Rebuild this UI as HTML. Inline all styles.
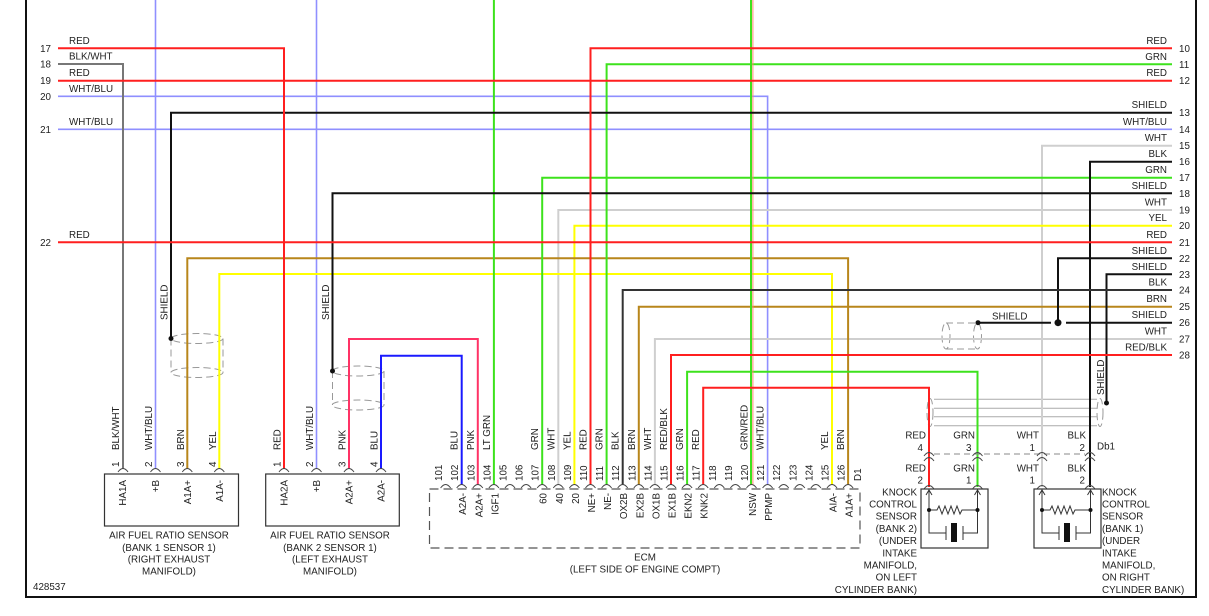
<!DOCTYPE html>
<html>
<head>
<meta charset="utf-8">
<style>
html,body{margin:0;padding:0;background:#fff;}
svg{display:block;}
text{font-family:"Liberation Sans",Arial,sans-serif;font-size:9.8px;fill:#222;}
</style>
</head>
<body>
<svg width="1209" height="616" viewBox="0 0 1209 616" xmlns="http://www.w3.org/2000/svg">
<rect width="1209" height="616" fill="#fff"/>

<!-- shield tubes (behind wires) -->
<g fill="none" stroke="#999" stroke-width="1" stroke-dasharray="7 4">
  <ellipse cx="197" cy="338.5" rx="26" ry="5"/>
  <ellipse cx="197" cy="372.5" rx="26" ry="5"/>
  <path d="M171,338.5 V372.5 M223,338.5 V372.5"/>
  <ellipse cx="358" cy="371" rx="26" ry="5"/>
  <ellipse cx="358" cy="405" rx="26" ry="5"/>
  <path d="M332.5,371 V405 M384,371 V405"/>
  <ellipse cx="946" cy="336" rx="4" ry="13"/>
  <ellipse cx="977.5" cy="336" rx="4" ry="13"/>
  <path d="M946,323 H977 M946,349 H977"/>
  <ellipse cx="930" cy="412.5" rx="3" ry="14"/>
  <ellipse cx="1100" cy="412.5" rx="3" ry="14"/>
</g>
<g stroke="#aaa" stroke-width="1">
  <path d="M934,399.3 H1097 M934,408.3 H1097 M934,416.7 H1097 M934,425.7 H1097"/>
</g>

<!-- wires -->
<g fill="none" stroke-width="2" stroke-linejoin="miter">
  <!-- WHT/BLU -->
  <g stroke="#8f8fff" stroke-width="1.6">
    <path d="M155.5,0 V469"/>
    <path d="M316.5,0 V469"/>
    <path d="M58,96.3 H767.6 V485"/>
    <path d="M58,129.3 H1172"/>
  </g>
  <!-- light gray WHT -->
  <g stroke="#cfcfcf">
    <path d="M1172,145.7 H1042 V487"/>
    <path d="M1172,210 H558.3 V485"/>
    <path d="M1172,339 H654.9 V485"/>
  </g>
  <!-- BLK/WHT -->
  <path d="M58,64 H123 V469" stroke="#777"/>
  <!-- yellow -->
  <g stroke="#ffff00">
    <path d="M1172,225.7 H574.4 V485"/>
    <path d="M219.3,469 V274 H832 V485"/>
  </g>
  <!-- brown -->
  <g stroke="#b8861b">
    <path d="M1172,306.7 H638.8 V485"/>
    <path d="M187.3,469 V258.3 H848.1 V485"/>
  </g>
  <!-- green -->
  <g stroke="#3de21c">
    <path d="M1172,64.3 H606.6 V485"/>
    <path d="M1172,177.7 H542.2 V485"/>
    <path d="M493.9,0 V485"/>
    <path d="M687.1,485 V371.7 H977.5 V487"/>
    <path d="M751,0 V485"/>
  </g>
  <path d="M752.9,0 V485" stroke="#ff8a70" stroke-width="1"/>
  <!-- black -->
  <g stroke="#111">
    <path d="M1172,112.7 H171 V338.5"/>
    <path d="M1172,193.3 H332.5 V371"/>
    <path d="M1172,161.7 H1090 V487"/>
    <path d="M1172,258.3 H1058 V322.7"/>
    <path d="M1172,274.3 H1106.5 V403"/>
    <path d="M1172,322.7 H1066 M1051,322.7 H978"/>
  </g>
  <path d="M1172,290 H622.7 V485" stroke="#333"/>
  <!-- red -->
  <g stroke="#ff1f1f">
    <path d="M58,48.3 H284 V469"/>
    <path d="M58,80.7 H1172"/>
    <path d="M58,242.3 H1172"/>
    <path d="M1172,48.3 H590.5 V485"/>
    <path d="M1172,355 H671 V485"/>
    <path d="M703.2,485 V387.7 H929 V487"/>
  </g>
  <!-- pink / blue -->
  <path d="M349,469 V339 H477.8 V485" stroke="#ff3366"/>
  <path d="M381,469 V355.7 H461.7 V485" stroke="#1a1aff"/>
</g>

<!-- dots -->
<g fill="#111">
  <circle cx="171" cy="338.5" r="2.5"/>
  <circle cx="332.5" cy="371" r="2.5"/>
  <circle cx="978" cy="322.7" r="2.5"/>
  <circle cx="1058" cy="322.7" r="3.5"/>
  <circle cx="1106.5" cy="403" r="2.5"/>
</g>

<!-- frame -->
<path d="M26,0 V597 H1196 V0" fill="none" stroke="#111" stroke-width="2"/>

<!-- left side labels -->
<g text-anchor="end">
  <text x="51" y="51.8">17</text>
  <text x="51" y="67.5">18</text>
  <text x="51" y="84.2">19</text>
  <text x="51" y="99.8">20</text>
  <text x="51" y="132.8">21</text>
  <text x="51" y="245.8">22</text>
</g>
<g>
  <text x="69" y="43.8">RED</text>
  <text x="69" y="59.5">BLK/WHT</text>
  <text x="69" y="76.2">RED</text>
  <text x="69" y="91.8">WHT/BLU</text>
  <text x="69" y="124.8">WHT/BLU</text>
  <text x="69" y="237.8">RED</text>
</g>

<!-- right side labels -->
<g text-anchor="end">
  <text x="1167" y="43.8">RED</text>
  <text x="1167" y="59.8">GRN</text>
  <text x="1167" y="76.2">RED</text>
  <text x="1167" y="108.2">SHIELD</text>
  <text x="1167" y="124.8">WHT/BLU</text>
  <text x="1167" y="141.2">WHT</text>
  <text x="1167" y="157.2">BLK</text>
  <text x="1167" y="173.2">GRN</text>
  <text x="1167" y="188.8">SHIELD</text>
  <text x="1167" y="205.5">WHT</text>
  <text x="1167" y="221.2">YEL</text>
  <text x="1167" y="237.8">RED</text>
  <text x="1167" y="253.8">SHIELD</text>
  <text x="1167" y="269.8">SHIELD</text>
  <text x="1167" y="285.5">BLK</text>
  <text x="1167" y="302.2">BRN</text>
  <text x="1167" y="318.2">SHIELD</text>
  <text x="1167" y="334.5">WHT</text>
  <text x="1167" y="350.5">RED/BLK</text>
</g>
<g>
  <text x="1179" y="51.8">10</text>
  <text x="1179" y="67.8">11</text>
  <text x="1179" y="84.2">12</text>
  <text x="1179" y="116.2">13</text>
  <text x="1179" y="132.8">14</text>
  <text x="1179" y="149.2">15</text>
  <text x="1179" y="165.2">16</text>
  <text x="1179" y="181.2">17</text>
  <text x="1179" y="196.8">18</text>
  <text x="1179" y="213.5">19</text>
  <text x="1179" y="229.2">20</text>
  <text x="1179" y="245.8">21</text>
  <text x="1179" y="261.8">22</text>
  <text x="1179" y="277.8">23</text>
  <text x="1179" y="293.5">24</text>
  <text x="1179" y="310.2">25</text>
  <text x="1179" y="326.2">26</text>
  <text x="1179" y="342.5">27</text>
  <text x="1179" y="358.5">28</text>
</g>
<text x="992" y="319.6">SHIELD</text>

<!-- SHIELD rotated labels -->
<text transform="translate(167.5,320) rotate(-90)">SHIELD</text>
<text transform="translate(329,320) rotate(-90)">SHIELD</text>
<text transform="translate(1104,395) rotate(-90)">SHIELD</text>

<!-- AF sensors -->
<g fill="none" stroke="#333" stroke-width="1.2">
  <rect x="104.5" y="474" width="134" height="52"/>
  <rect x="265.7" y="474" width="133.6" height="52"/>
</g>
<g fill="none" stroke="#444" stroke-width="1">
  <path d="M118,472 Q123,465 128,472 M150.5,472 Q155.5,465 160.5,472 M182.3,472 Q187.3,465 192.3,472 M214.3,472 Q219.3,465 224.3,472"/>
  <path d="M279,472 Q284,465 289,472 M311.5,472 Q316.5,465 321.5,472 M344,472 Q349,465 354,472 M376,472 Q381,465 386,472"/>
</g>
<!-- sensor wire labels -->
<text transform="translate(119,450) rotate(-90)">BLK/WHT</text>
<text transform="translate(152,450) rotate(-90)">WHT/BLU</text>
<text transform="translate(184,450) rotate(-90)">BRN</text>
<text transform="translate(216,450) rotate(-90)">YEL</text>
<text transform="translate(280.5,450) rotate(-90)">RED</text>
<text transform="translate(313,450) rotate(-90)">WHT/BLU</text>
<text transform="translate(345.5,450) rotate(-90)">PNK</text>
<text transform="translate(377.5,450) rotate(-90)">BLU</text>
<!-- sensor pin numbers -->
<text transform="translate(119,467) rotate(-90)">1</text>
<text transform="translate(152,467) rotate(-90)">2</text>
<text transform="translate(184,467) rotate(-90)">3</text>
<text transform="translate(216,467) rotate(-90)">4</text>
<text transform="translate(280.5,467) rotate(-90)">1</text>
<text transform="translate(313,467) rotate(-90)">2</text>
<text transform="translate(345.5,467) rotate(-90)">3</text>
<text transform="translate(377.5,467) rotate(-90)">4</text>
<!-- sensor inner labels -->
<g text-anchor="end">
  <text transform="translate(126,480) rotate(-90)">HA1A</text>
  <text transform="translate(159,480) rotate(-90)">+B</text>
  <text transform="translate(191,480) rotate(-90)">A1A+</text>
  <text transform="translate(223,480) rotate(-90)">A1A-</text>
  <text transform="translate(287.5,480) rotate(-90)">HA2A</text>
  <text transform="translate(320,480) rotate(-90)">+B</text>
  <text transform="translate(352.5,480) rotate(-90)">A2A+</text>
  <text transform="translate(384.5,480) rotate(-90)">A2A-</text>
</g>
<g text-anchor="middle">
  <text x="169" y="538.6">AIR FUEL RATIO SENSOR</text>
  <text x="169" y="550.9">(BANK 1 SENSOR 1)</text>
  <text x="169" y="562.6">(RIGHT EXHAUST</text>
  <text x="169" y="574.6">MANIFOLD)</text>
  <text x="330" y="538.6">AIR FUEL RATIO SENSOR</text>
  <text x="330" y="550.9">(BANK 2 SENSOR 1)</text>
  <text x="330" y="562.6">(LEFT EXHAUST</text>
  <text x="330" y="574.6">MANIFOLD)</text>
  <text x="645" y="560.6">ECM</text>
  <text x="645" y="572.6">(LEFT SIDE OF ENGINE COMPT)</text>
</g>
<text x="33" y="590">428537</text>

<!-- ECM box -->
<rect x="429.5" y="489" width="430.5" height="59" fill="none" stroke="#555" stroke-width="1.2" stroke-dasharray="9 5"/>
<g fill="none" stroke="#444" stroke-width="1">
  <path d="M440.6,488 Q445.6,481 450.6,488 M456.7,488 Q461.7,481 466.7,488 M472.8,488 Q477.8,481 482.8,488 M488.9,488 Q493.9,481 498.9,488 M505,488 Q510,481 515,488 M521.1,488 Q526.1,481 531.1,488 M537.2,488 Q542.2,481 547.2,488 M553.3,488 Q558.3,481 563.3,488 M569.4,488 Q574.4,481 579.4,488 M585.5,488 Q590.5,481 595.5,488 M601.6,488 Q606.6,481 611.6,488 M617.7,488 Q622.7,481 627.7,488 M633.8,488 Q638.8,481 643.8,488 M649.9,488 Q654.9,481 659.9,488 M666,488 Q671,481 676,488 M682.1,488 Q687.1,481 692.1,488 M698.2,488 Q703.2,481 708.2,488 M714.3,488 Q719.3,481 724.3,488 M730.4,488 Q735.4,481 740.4,488 M746.5,488 Q751.5,481 756.5,488 M762.6,488 Q767.6,481 772.6,488 M778.7,488 Q783.7,481 788.7,488 M794.8,488 Q799.8,481 804.8,488 M810.9,488 Q815.9,481 820.9,488 M827,488 Q832,481 837,488 M843.1,488 Q848.1,481 853.1,488"/>
</g>
<!-- ECM pin numbers -->
<g>
  <text transform="translate(442.1,481) rotate(-90)">101</text>
  <text transform="translate(458.2,481) rotate(-90)">102</text>
  <text transform="translate(474.3,481) rotate(-90)">103</text>
  <text transform="translate(490.4,481) rotate(-90)">104</text>
  <text transform="translate(506.5,481) rotate(-90)">105</text>
  <text transform="translate(522.6,481) rotate(-90)">106</text>
  <text transform="translate(538.7,481) rotate(-90)">107</text>
  <text transform="translate(554.8,481) rotate(-90)">108</text>
  <text transform="translate(570.9,481) rotate(-90)">109</text>
  <text transform="translate(587,481) rotate(-90)">110</text>
  <text transform="translate(603.1,481) rotate(-90)">111</text>
  <text transform="translate(619.2,481) rotate(-90)">112</text>
  <text transform="translate(635.3,481) rotate(-90)">113</text>
  <text transform="translate(651.4,481) rotate(-90)">114</text>
  <text transform="translate(667.5,481) rotate(-90)">115</text>
  <text transform="translate(683.6,481) rotate(-90)">116</text>
  <text transform="translate(699.7,481) rotate(-90)">117</text>
  <text transform="translate(715.8,481) rotate(-90)">118</text>
  <text transform="translate(731.9,481) rotate(-90)">119</text>
  <text transform="translate(748,481) rotate(-90)">120</text>
  <text transform="translate(764.1,481) rotate(-90)">121</text>
  <text transform="translate(780.2,481) rotate(-90)">122</text>
  <text transform="translate(796.3,481) rotate(-90)">123</text>
  <text transform="translate(812.4,481) rotate(-90)">124</text>
  <text transform="translate(828.5,481) rotate(-90)">125</text>
  <text transform="translate(844.6,481) rotate(-90)">126</text>
  <text transform="translate(861,481) rotate(-90)">D1</text>
</g>
<!-- ECM wire color labels -->
<g>
  <text transform="translate(457.7,450) rotate(-90)">BLU</text>
  <text transform="translate(473.8,450) rotate(-90)">PNK</text>
  <text transform="translate(489.9,450) rotate(-90)">LT GRN</text>
  <text transform="translate(538.2,450) rotate(-90)">GRN</text>
  <text transform="translate(554.3,450) rotate(-90)">WHT</text>
  <text transform="translate(570.4,450) rotate(-90)">YEL</text>
  <text transform="translate(586.5,450) rotate(-90)">RED</text>
  <text transform="translate(602.6,450) rotate(-90)">GRN</text>
  <text transform="translate(618.7,450) rotate(-90)">BLK</text>
  <text transform="translate(634.8,450) rotate(-90)">BRN</text>
  <text transform="translate(650.9,450) rotate(-90)">WHT</text>
  <text transform="translate(667,450) rotate(-90)">RED/BLK</text>
  <text transform="translate(683.1,450) rotate(-90)">GRN</text>
  <text transform="translate(699.2,450) rotate(-90)">RED</text>
  <text transform="translate(747.5,450) rotate(-90)">GRN/RED</text>
  <text transform="translate(763.6,450) rotate(-90)">WHT/BLU</text>
  <text transform="translate(828,450) rotate(-90)">YEL</text>
  <text transform="translate(844.1,450) rotate(-90)">BRN</text>
</g>
<!-- ECM inner labels -->
<g text-anchor="end">
  <text transform="translate(466.2,493) rotate(-90)">A2A-</text>
  <text transform="translate(482.3,493) rotate(-90)">A2A+</text>
  <text transform="translate(498.4,493) rotate(-90)">IGF1</text>
  <text transform="translate(546.7,493) rotate(-90)">60</text>
  <text transform="translate(562.8,493) rotate(-90)">40</text>
  <text transform="translate(578.9,493) rotate(-90)">20</text>
  <text transform="translate(595,493) rotate(-90)">NE+</text>
  <text transform="translate(611.1,493) rotate(-90)">NE-</text>
  <text transform="translate(627.2,493) rotate(-90)">OX2B</text>
  <text transform="translate(643.3,493) rotate(-90)">EX2B</text>
  <text transform="translate(659.4,493) rotate(-90)">OX1B</text>
  <text transform="translate(675.5,493) rotate(-90)">EX1B</text>
  <text transform="translate(691.6,493) rotate(-90)">EKN2</text>
  <text transform="translate(707.7,493) rotate(-90)">KNK2</text>
  <text transform="translate(756,493) rotate(-90)">NSW</text>
  <text transform="translate(772.1,493) rotate(-90)">PPMP</text>
  <text transform="translate(836.5,493) rotate(-90)">AIA-</text>
  <text transform="translate(852.6,493) rotate(-90)">A1A+</text>
</g>

<!-- Knock connector Db1 -->
<path d="M934,454 H1085" stroke="#888" stroke-width="1" stroke-dasharray="6 4" fill="none"/>
<g fill="none" stroke="#444" stroke-width="1">
  <path d="M924,456 Q929,449 934,456 M924,461 Q929,454 934,461 M924,489 Q929,482 934,489"/>
  <path d="M972.5,456 Q977.5,449 982.5,456 M972.5,461 Q977.5,454 982.5,461 M972.5,489 Q977.5,482 982.5,489"/>
  <path d="M1037,456 Q1042,449 1047,456 M1037,461 Q1042,454 1047,461 M1037,489 Q1042,482 1047,489"/>
  <path d="M1085,456 Q1090,449 1095,456 M1085,461 Q1090,454 1095,461 M1085,489 Q1090,482 1095,489"/>
</g>
<g text-anchor="end">
  <text x="926" y="438.6">RED</text>
  <text x="923" y="450.8">4</text>
  <text x="975" y="438.6">GRN</text>
  <text x="971.5" y="450.8">3</text>
  <text x="1039" y="438.6">WHT</text>
  <text x="1035" y="450.8">1</text>
  <text x="1086" y="438.6">BLK</text>
  <text x="1085" y="450.8">2</text>
  <text x="926" y="471.3">RED</text>
  <text x="923" y="483.6">2</text>
  <text x="975" y="471.3">GRN</text>
  <text x="971.5" y="483.6">1</text>
  <text x="1039" y="471.3">WHT</text>
  <text x="1035" y="483.6">1</text>
  <text x="1086" y="471.3">BLK</text>
  <text x="1085" y="483.6">2</text>
</g>
<text x="1097" y="449.6">Db1</text>

<!-- Knock sensors -->
<g fill="none" stroke="#333" stroke-width="1.2">
  <rect x="921" y="489" width="67" height="59"/>
  <rect x="1034" y="489" width="67" height="59"/>
</g>
<g fill="none" stroke="#333" stroke-width="1">
  <path d="M929,491 V533 H946 M977.5,491 V533 H963 M926,495 L929,490 L932,495 M974.5,495 L977.5,490 L980.5,495"/>
  <path d="M929,510 H937 l2,-4 l3,8 l3,-8 l3,8 l3,-8 l3,8 l3,-8 l3,8 l2,-4 H977.5"/>
  <path d="M946,526 V540 M963,526 V540"/>
  <path d="M1042,491 V533 H1059 M1090.5,491 V533 H1076 M1039,495 L1042,490 L1045,495 M1087.5,495 L1090.5,490 L1093.5,495"/>
  <path d="M1042,510 H1050 l2,-4 l3,8 l3,-8 l3,8 l3,-8 l3,8 l3,-8 l3,8 l2,-4 H1090.5"/>
  <path d="M1059,526 V540 M1076,526 V540"/>
</g>
<g fill="#111">
  <circle cx="929" cy="510" r="2"/>
  <circle cx="977.5" cy="510" r="2"/>
  <rect x="951" y="523" width="6" height="19"/>
  <circle cx="1042" cy="510" r="2"/>
  <circle cx="1090.5" cy="510" r="2"/>
  <rect x="1064" y="523" width="6" height="19"/>
</g>
<g text-anchor="end">
  <text x="917" y="495.3">KNOCK</text>
  <text x="917" y="507.5">CONTROL</text>
  <text x="917" y="519.7">SENSOR</text>
  <text x="917" y="531.9">(BANK 2)</text>
  <text x="917" y="544.1">(UNDER</text>
  <text x="917" y="556.3">INTAKE</text>
  <text x="917" y="568.5">MANIFOLD,</text>
  <text x="917" y="580.7">ON LEFT</text>
  <text x="917" y="592.9">CYLINDER BANK)</text>
</g>
<g>
  <text x="1102" y="495.3">KNOCK</text>
  <text x="1102" y="507.5">CONTROL</text>
  <text x="1102" y="519.7">SENSOR</text>
  <text x="1102" y="531.9">(BANK 1)</text>
  <text x="1102" y="544.1">(UNDER</text>
  <text x="1102" y="556.3">INTAKE</text>
  <text x="1102" y="568.5">MANIFOLD,</text>
  <text x="1102" y="580.7">ON RIGHT</text>
  <text x="1102" y="592.9">CYLINDER BANK)</text>
</g>
</svg>
</body>
</html>
